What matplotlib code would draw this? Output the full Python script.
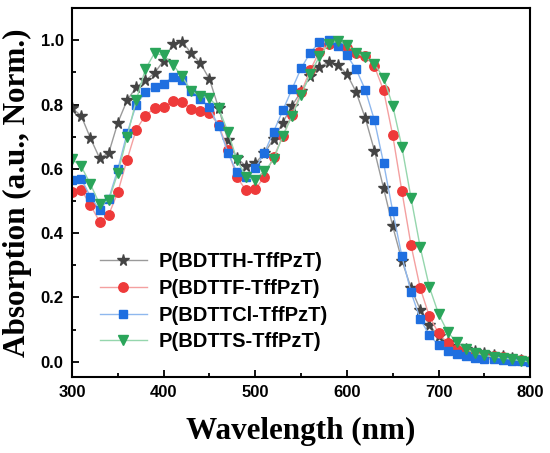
import numpy as np
import matplotlib
matplotlib.use('Agg')
import matplotlib.pyplot as plt
from matplotlib.ticker import MultipleLocator

# wavelength grid of the measured points (nm)
wl = np.arange(300, 801, 10)

star = [0.789, 0.765, 0.696, 0.634, 0.649, 0.744, 0.813, 0.854, 0.875, 0.898,
        0.937, 0.989, 0.996, 0.960, 0.929, 0.879, 0.789, 0.690, 0.634, 0.608,
        0.618, 0.649, 0.693, 0.744, 0.796, 0.841, 0.888, 0.917, 0.932, 0.924,
        0.895, 0.839, 0.758, 0.657, 0.540, 0.421, 0.315, 0.229, 0.162, 0.115,
        0.079, 0.062, 0.050, 0.040, 0.033, 0.027, 0.022, 0.017, 0.012, 0.007,
        0.003]
red = [0.528, 0.535, 0.488, 0.436, 0.457, 0.528, 0.628, 0.722, 0.766, 0.789,
       0.791, 0.810, 0.808, 0.787, 0.781, 0.773, 0.737, 0.659, 0.574, 0.533,
       0.537, 0.576, 0.637, 0.701, 0.768, 0.838, 0.908, 0.965, 0.990, 0.985,
       0.976, 0.962, 0.950, 0.919, 0.844, 0.704, 0.530, 0.362, 0.229, 0.141,
       0.089, 0.058, 0.040, 0.032, 0.027, 0.022, 0.018, 0.014, 0.010, 0.006,
       0.003]
blue = [0.566, 0.569, 0.514, 0.473, 0.507, 0.599, 0.711, 0.799, 0.839, 0.856,
        0.865, 0.886, 0.877, 0.843, 0.818, 0.791, 0.732, 0.651, 0.589, 0.576,
        0.602, 0.651, 0.716, 0.782, 0.848, 0.913, 0.962, 0.994, 1.000, 0.983,
        0.953, 0.910, 0.846, 0.751, 0.618, 0.468, 0.328, 0.216, 0.133, 0.082,
        0.053, 0.034, 0.024, 0.018, 0.013, 0.010, 0.008, 0.006, 0.004, 0.002,
        0.000]
green = [0.630, 0.608, 0.553, 0.491, 0.502, 0.587, 0.699, 0.813, 0.910, 0.960,
         0.953, 0.924, 0.888, 0.843, 0.827, 0.820, 0.789, 0.716, 0.628, 0.574,
         0.566, 0.592, 0.630, 0.703, 0.765, 0.830, 0.895, 0.950, 0.989, 0.998,
         0.986, 0.962, 0.947, 0.926, 0.884, 0.796, 0.668, 0.509, 0.356, 0.232,
         0.149, 0.092, 0.060, 0.039, 0.027, 0.020, 0.015, 0.012, 0.008, 0.003,
         0.000]

labels = ['P(BDTTH-TffPzT)', 'P(BDTTF-TffPzT)', 'P(BDTTCl-TffPzT)', 'P(BDTTS-TffPzT)']

fig = plt.figure(figsize=(5.5, 4.53), dpi=100)
ax = fig.add_axes([0.131, 0.168, 0.833, 0.814])

ax.plot(wl, star, color='#9a9a9a', lw=1, marker='*', ms=8.5,
        mfc='#444444', mec='#444444', label=labels[0])
ax.plot(wl, red, color='#f4a0a0', lw=1, marker='o', ms=6.8,
        mfc='#ee3a3a', mec='#ee3a3a', label=labels[1])
ax.plot(wl, blue, color='#8fb8ee', lw=1, marker='s', ms=6,
        mfc='#1f6fe0', mec='#1f6fe0', label=labels[2])
ax.plot(wl, green, color='#95d6ad', lw=1, marker='v', ms=7.5,
        mfc='#2aa55a', mec='#2aa55a', label=labels[3])

ax.set_xlim(300, 800)
ax.set_ylim(-0.047, 1.1)
ax.xaxis.set_major_locator(MultipleLocator(100))
ax.xaxis.set_minor_locator(MultipleLocator(50))
ax.yaxis.set_major_locator(MultipleLocator(0.2))
ax.yaxis.set_minor_locator(MultipleLocator(0.1))
ax.tick_params(which='both', direction='in', width=1.3)
ax.tick_params(which='major', length=5, labelsize=12, pad=6)
ax.tick_params(which='minor', length=3)
for lab in ax.get_xticklabels() + ax.get_yticklabels():
    lab.set_family('Liberation Sans')
    lab.set_fontweight('bold')
for sp in ax.spines.values():
    sp.set_linewidth(1.5)

ax.set_xlabel('Wavelength (nm)', family='Liberation Serif', fontweight='bold',
              fontsize=22.4, labelpad=12)
ax.set_ylabel('Absorption (a.u., Norm.)', family='Liberation Serif',
              fontweight='bold', fontsize=22.4, labelpad=6)

leg = ax.legend(loc='lower left', bbox_to_anchor=(0.022, 0.02), frameon=False,
                prop={'family': 'Liberation Sans', 'weight': 'bold', 'size': 14.5},
                handlelength=2.3, handletextpad=0.6, labelspacing=0.38)

fig.savefig('out.png', dpi=100)
